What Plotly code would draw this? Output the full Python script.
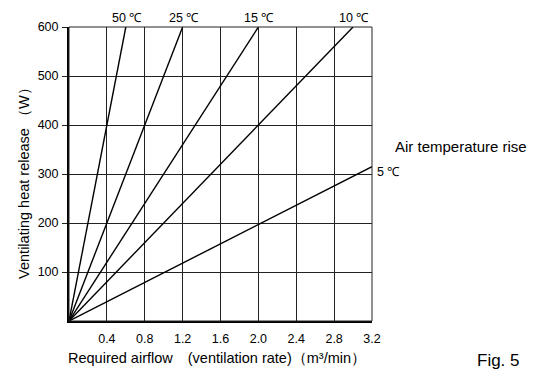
import plotly.graph_objects as go

# Air temperature rise lines: each is a straight line from the origin to an end point
temps = ["50 ℃", "25 ℃", "15 ℃", "10 ℃", "5 ℃"]
end_airflow = [0.6, 1.2, 2.0, 3.0, 3.2]      # m3/min
end_heat = [600, 600, 600, 600, 315]          # W

x_ticks = [0.4, 0.8, 1.2, 1.6, 2.0, 2.4, 2.8, 3.2]
x_tick_text = ["0.4", "0.8", "1.2", "1.6", "2.0", "2.4", "2.8", "3.2"]
y_ticks = [100, 200, 300, 400, 500, 600]

FONT = "Liberation Sans, Arial, sans-serif"

fig = go.Figure()
for t, xe, ye in zip(temps, end_airflow, end_heat):
    fig.add_trace(go.Scatter(x=[0, xe], y=[0, ye], mode="lines",
                             line=dict(color="black", width=1.4),
                             showlegend=False, hoverinfo="skip", cliponaxis=False))

annotations = []
for t, xe, ye in zip(temps, end_airflow, end_heat):
    if ye >= 600:
        annotations.append(dict(x=xe, y=ye, xref="x", yref="y", text=t, showarrow=False,
                                xanchor="center", yanchor="bottom", yshift=0, xshift=1,
                                font=dict(size=12.5, color="black", family=FONT)))
    else:
        annotations.append(dict(x=xe, y=ye, xref="x", yref="y", text=t, showarrow=False,
                                xanchor="left", yanchor="middle", xshift=3, yshift=-5,
                                font=dict(size=12.5, color="black", family=FONT)))

annotations += [
    dict(x=3.2, y=end_heat[-1], xref="x", yref="y", text="Air temperature rise", showarrow=False,
         xanchor="left", yanchor="middle", xshift=21, yshift=20,
         font=dict(size=15, color="black", family=FONT)),
    dict(x=0, y=0, xref="paper", yref="paper", text="Required airflow　(ventilation rate)（m³/min）",
         showarrow=False, xanchor="left", yanchor="top", yshift=-27, xshift=-3,
         font=dict(size=14.5, color="black", family=FONT)),
    dict(x=1, y=0, xref="paper", yref="paper", text="Fig. 5", showarrow=False,
         xanchor="left", yanchor="top", xshift=103, yshift=-28,
         font=dict(size=17, color="black", family=FONT)),
    dict(x=0, y=0.48, xref="paper", yref="paper", text="Ventilating heat release （W）", showarrow=False,
         textangle=-90, xanchor="center", yanchor="middle", xshift=-45,
         font=dict(size=14.5, color="black", family=FONT)),
]

fig.update_layout(
    width=535, height=369,
    margin=dict(l=69, r=163, t=27, b=48),
    paper_bgcolor="white", plot_bgcolor="white",
    annotations=annotations,
    font=dict(family=FONT, size=12.5, color="black"),
    shapes=[dict(type="rect", xref="x domain", yref="y domain", x0=0, x1=1, y0=0, y1=1,
                 line=dict(color="#222", width=1), layer="above")],
)
fig.update_xaxes(range=[0, 3.2], tickvals=x_ticks, ticktext=x_tick_text,
                 showgrid=True, gridcolor="#222", gridwidth=1, zeroline=False,
                 showline=True, linecolor="black", linewidth=2, ticks="", ticklabelstandoff=5,
                 tickfont=dict(size=12.5, family=FONT))
fig.update_yaxes(range=[0, 600], tickvals=y_ticks,
                 showgrid=True, gridcolor="#222", gridwidth=1, zeroline=False,
                 showline=True, linecolor="black", linewidth=2,
                 ticks="outside", ticklen=5, tickcolor="#222", ticklabelstandoff=1,
                 tickfont=dict(size=12.5, family=FONT))

fig.write_html("out.html", config={"displayModeBar": False})

# remove the browser's default page margin so the figure sits at the window's top-left
with open("out.html", encoding="utf-8") as f:
    html = f.read()
html = html.replace("<head>", "<head><style>html,body{margin:0;padding:0;overflow:hidden;}</style>", 1)
with open("out.html", "w", encoding="utf-8") as f:
    f.write(html)
